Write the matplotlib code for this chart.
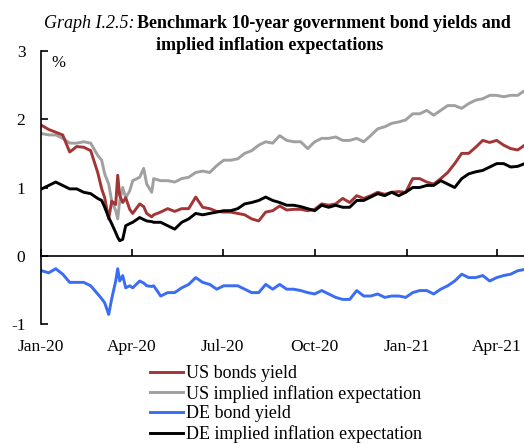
import matplotlib

matplotlib.use('Agg')
import matplotlib.pyplot as plt
import matplotlib.dates as mdates
import pandas as pd

# --- 1. DATA ---
DATES = [
    "2020-01-02", "2020-01-09", "2020-01-16", "2020-01-23", "2020-01-30", "2020-02-06", "2020-02-13",
    "2020-02-20", "2020-02-27",
    "2020-03-02", "2020-03-05", "2020-03-09", "2020-03-12", "2020-03-16", "2020-03-18", "2020-03-20",
    "2020-03-23", "2020-03-26", "2020-03-30",
    "2020-04-02", "2020-04-09", "2020-04-13", "2020-04-16", "2020-04-21", "2020-04-23", "2020-04-30",
    "2020-05-07", "2020-05-14", "2020-05-21", "2020-05-28",
    "2020-06-04", "2020-06-11", "2020-06-18", "2020-06-25",
    "2020-07-02", "2020-07-09", "2020-07-16", "2020-07-23", "2020-07-30",
    "2020-08-06", "2020-08-13", "2020-08-20", "2020-08-27",
    "2020-09-03", "2020-09-10", "2020-09-17", "2020-09-24",
    "2020-10-01", "2020-10-08", "2020-10-15", "2020-10-22", "2020-10-29",
    "2020-11-05", "2020-11-12", "2020-11-19", "2020-11-26",
    "2020-12-03", "2020-12-10", "2020-12-17", "2020-12-24", "2020-12-31",
    "2021-01-07", "2021-01-14", "2021-01-21", "2021-01-28",
    "2021-02-04", "2021-02-11", "2021-02-18", "2021-02-25",
    "2021-03-04", "2021-03-11", "2021-03-18", "2021-03-25",
    "2021-04-01", "2021-04-08", "2021-04-15", "2021-04-22", "2021-04-29",
]

US_YIELD = [
    1.91, 1.85, 1.81, 1.77, 1.52, 1.60, 1.59, 1.54, 1.22,
    0.98, 0.85, 0.54, 0.80, 0.75, 1.18, 0.88, 0.78, 0.85, 0.68,
    0.62, 0.76, 0.72, 0.62, 0.57, 0.60, 0.64,
    0.69, 0.65, 0.69, 0.69,
    0.86, 0.71, 0.69, 0.65,
    0.64, 0.64, 0.62, 0.60, 0.54,
    0.51, 0.64, 0.66, 0.73,
    0.67, 0.68, 0.68, 0.66,
    0.68, 0.76, 0.74, 0.76, 0.84,
    0.78, 0.88, 0.84, 0.88,
    0.93, 0.90, 0.93, 0.94, 0.93,
    1.13, 1.13, 1.08, 1.05,
    1.13, 1.22, 1.35, 1.50,
    1.50, 1.59, 1.69, 1.66,
    1.69, 1.62, 1.57, 1.55, 1.62,
]

US_INFL = [
    1.79, 1.77, 1.77, 1.72, 1.65, 1.65, 1.67, 1.65, 1.47,
    1.40, 1.20, 1.05, 0.80, 0.66, 0.54, 0.80, 1.00, 0.85, 0.95,
    1.10, 1.15, 1.28, 1.05, 0.93, 1.13, 1.10,
    1.10, 1.08, 1.13, 1.15,
    1.22, 1.24, 1.22, 1.32,
    1.40, 1.40, 1.42, 1.50, 1.54,
    1.62, 1.67, 1.65, 1.76,
    1.69, 1.67, 1.67, 1.57,
    1.67, 1.72, 1.72, 1.74, 1.69,
    1.69, 1.72, 1.67, 1.76,
    1.86, 1.89, 1.94, 1.96, 1.99,
    2.08, 2.08, 2.13, 2.06,
    2.13, 2.20, 2.20, 2.16,
    2.23, 2.28, 2.30, 2.35,
    2.35, 2.33, 2.35, 2.35, 2.42,
]

DE_YIELD = [
    -0.22, -0.25, -0.19, -0.27, -0.39, -0.39, -0.39, -0.44, -0.56,
    -0.63, -0.69, -0.86, -0.63, -0.37, -0.19, -0.37, -0.29, -0.47, -0.44,
    -0.47, -0.37, -0.40, -0.44, -0.45, -0.44, -0.59,
    -0.54, -0.54, -0.47, -0.42,
    -0.32, -0.39, -0.42, -0.49,
    -0.44, -0.44, -0.44, -0.49, -0.54,
    -0.54, -0.42, -0.49, -0.42,
    -0.49, -0.49, -0.51, -0.54,
    -0.56, -0.51, -0.56, -0.61, -0.64,
    -0.64, -0.51, -0.59, -0.59,
    -0.56, -0.61, -0.59, -0.59, -0.61,
    -0.54, -0.51, -0.51, -0.56,
    -0.49, -0.44, -0.37, -0.27,
    -0.32, -0.32, -0.29, -0.37,
    -0.32, -0.29, -0.27, -0.22, -0.20,
]

DE_INFL = [
    0.98, 1.03, 1.08, 1.03, 0.98, 0.98, 0.93, 0.91, 0.84,
    0.81, 0.71, 0.56, 0.47, 0.34, 0.27, 0.22, 0.24, 0.44, 0.47,
    0.49, 0.56, 0.53, 0.51, 0.50, 0.49, 0.49,
    0.44, 0.39, 0.49, 0.54,
    0.62, 0.60, 0.62, 0.64,
    0.66, 0.66, 0.69, 0.76, 0.78,
    0.81, 0.86, 0.81, 0.78,
    0.74, 0.74, 0.72, 0.69,
    0.66, 0.74, 0.71, 0.74, 0.71,
    0.71, 0.81, 0.81, 0.86,
    0.91, 0.88, 0.93, 0.88, 0.93,
    1.00, 1.00, 1.03, 1.03,
    1.10, 1.05, 1.00, 1.13,
    1.20, 1.23, 1.25, 1.30,
    1.35, 1.35, 1.30, 1.31, 1.35,
]

LABELS = ["US bonds yield", "US implied inflation expectation",
          "DE bond yield", "DE implied inflation expectation"]
X_TICKS = ["2020-01-01", "2020-04-01", "2020-07-01", "2020-10-01", "2021-01-01", "2021-04-01"]

# --- 2. PLOT ---
plt.rcParams['font.family'] = ['Liberation Serif', 'DejaVu Serif']

x = pd.to_datetime(DATES)
fig = plt.figure(figsize=(5.24, 4.44), dpi=100)
ax = fig.add_axes([40.7 / 524, 120 / 444, 484 / 524, 273 / 444])

lw = 2.1
l_gray, = ax.plot(x, US_INFL, color='#a0a0a0', lw=lw)
l_red, = ax.plot(x, US_YIELD, color='#a23535', lw=lw)
l_blue, = ax.plot(x, DE_YIELD, color='#3a6cf4', lw=lw)
l_black, = ax.plot(x, DE_INFL, color='black', lw=lw)

ax.set_xlim(pd.Timestamp("2020-01-01"), pd.Timestamp("2021-04-29"))
ax.set_ylim(-1, 3)
ax.set_yticks([-1, 0, 1, 2, 3])
ax.set_yticklabels(["-1", "0", "1", "2", "3"])

ticks = pd.to_datetime(X_TICKS)
ax.set_xticks(ticks)
ax.xaxis.set_major_formatter(mdates.DateFormatter('%b-%y'))

# zero line doubles as x axis, labels pushed down below -1
for s in ['top', 'right']:
    ax.spines[s].set_visible(False)
ax.spines['bottom'].set_position(('data', 0))
ax.spines['bottom'].set_linewidth(1.2)
ax.spines['left'].set_linewidth(1.2)

ax.tick_params(axis='x', direction='in', length=5, width=1.2, pad=60, labelsize=12.5)
ax.tick_params(axis='y', direction='in', length=5, width=1.2, pad=11, labelsize=12.5)

ax.text(0.022, 0.955, "%", transform=ax.transAxes, fontsize=12, ha='left', va='center')

# title: italic prefix + bold rest
fig.text(134 / 524, 1 - 24 / 444, "Graph I.2.5:", fontsize=13, style='italic', ha='right', va='center')
fig.text(137 / 524, 1 - 24 / 444, "Benchmark 10-year government bond yields and",
         fontsize=13, weight='bold', ha='left', va='center')
fig.text(270 / 524, 1 - 45 / 444, "implied inflation expectations",
         fontsize=13, weight='bold', ha='center', va='center')

fig.legend([l_red, l_gray, l_blue, l_black], LABELS,
           loc='upper left', bbox_to_anchor=(150 / 524, 1 - 365 / 444),
           frameon=False, fontsize=13, handlelength=1.8, handletextpad=0.2,
           labelspacing=0.15, borderpad=0, borderaxespad=0)

fig.savefig('out.png', dpi=100)
plt.close()
